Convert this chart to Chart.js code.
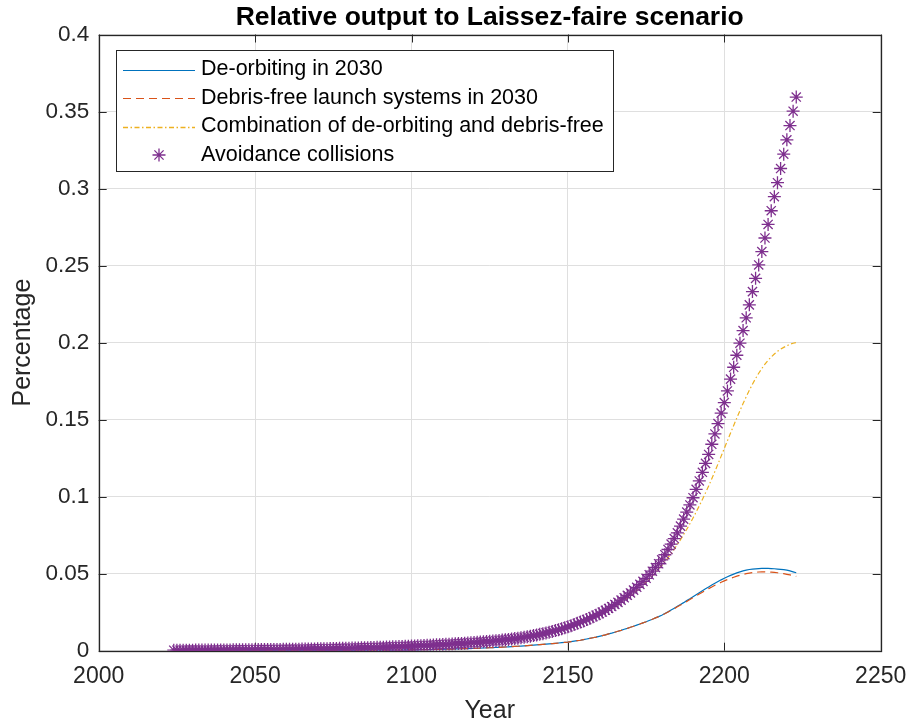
<!DOCTYPE html>
<html>
<head>
<meta charset="utf-8">
<title>Relative output to Laissez-faire scenario</title>
<script src="https://cdn.jsdelivr.net/npm/chart.js@4.4.1/dist/chart.umd.min.js"></script>
<style>
  html, body { margin: 0; padding: 0; background: #ffffff; }
  canvas { display: block; }
</style>
</head>
<body>
<canvas id="chart" width="909" height="724"></canvas>
<script>
// One value per year, starting in firstYear
const firstYear = 2024;

const deorbiting = [
  0.00005, 0.00005, 0.00005, 0.00006, 0.00006, 0.00006, 0.00006, 0.00006, 0.00007, 0.00007,
  0.00007, 0.00007, 0.00007, 0.00008, 0.00008, 0.00008, 0.00008, 0.00008, 0.00009, 0.00009,
  0.00009, 0.00009, 0.00009, 0.0001, 0.0001, 0.0001, 0.0001, 0.0001, 0.00011, 0.00011,
  0.00011, 0.00012, 0.00012, 0.00013, 0.00013, 0.00014, 0.00014, 0.00014, 0.00015, 0.00015,
  0.00016, 0.00016, 0.00016, 0.00017, 0.00017, 0.00018, 0.00018, 0.00018, 0.00019, 0.00019,
  0.0002, 0.0002, 0.00021, 0.00022, 0.00023, 0.00024, 0.00025, 0.00026, 0.00027, 0.00028,
  0.0003, 0.00031, 0.00032, 0.00033, 0.00035, 0.00036, 0.00037, 0.00039, 0.0004, 0.00041,
  0.00043, 0.00044, 0.00045, 0.00047, 0.00048, 0.00049, 0.0005, 0.00054, 0.00058, 0.00062,
  0.00066, 0.0007, 0.00074, 0.00078, 0.00082, 0.00086, 0.0009, 0.00096, 0.00102, 0.00108,
  0.00114, 0.0012, 0.00126, 0.00132, 0.00138, 0.00144, 0.0015, 0.00158, 0.00166, 0.00174,
  0.00182, 0.0019, 0.002, 0.0021, 0.0022, 0.0023, 0.0024, 0.00252, 0.00264, 0.00276,
  0.00288, 0.003, 0.00316, 0.00332, 0.00348, 0.00364, 0.0038, 0.00396, 0.00412, 0.00428,
  0.00444, 0.0046, 0.0048, 0.005, 0.0052, 0.0054, 0.0056, 0.0059, 0.0062, 0.0065,
  0.0068, 0.0072, 0.0076, 0.008, 0.0084, 0.0088, 0.0093, 0.0098, 0.0103, 0.0109,
  0.0114, 0.012, 0.0126, 0.0132, 0.0139, 0.0145, 0.0152, 0.0159, 0.0166, 0.0173,
  0.0181, 0.0188, 0.0196, 0.0204, 0.0213, 0.0221, 0.023, 0.0241, 0.0252, 0.0264,
  0.0276, 0.0288, 0.03, 0.0312, 0.0325, 0.0337, 0.035, 0.0363, 0.0376, 0.0389,
  0.0402, 0.0414, 0.0426, 0.0438, 0.0449, 0.046, 0.047, 0.048, 0.0489, 0.0497,
  0.0505, 0.0512, 0.0518, 0.0523, 0.0527, 0.0529, 0.0531, 0.0533, 0.0534, 0.0534,
  0.0534, 0.0533, 0.0532, 0.053, 0.0528, 0.0526, 0.0523, 0.0518, 0.0512, 0.0506
];

const debrisFree = [
  0.00005, 0.00005, 0.00005, 0.00006, 0.00006, 0.00006, 0.00006, 0.00006, 0.00007, 0.00007,
  0.00007, 0.00007, 0.00007, 0.00008, 0.00008, 0.00008, 0.00008, 0.00008, 0.00009, 0.00009,
  0.00009, 0.00009, 0.00009, 0.0001, 0.0001, 0.0001, 0.0001, 0.0001, 0.00011, 0.00011,
  0.00011, 0.00012, 0.00012, 0.00013, 0.00013, 0.00014, 0.00014, 0.00014, 0.00015, 0.00015,
  0.00016, 0.00016, 0.00016, 0.00017, 0.00017, 0.00018, 0.00018, 0.00018, 0.00019, 0.00019,
  0.0002, 0.0002, 0.00021, 0.00022, 0.00023, 0.00024, 0.00025, 0.00026, 0.00027, 0.00028,
  0.0003, 0.00031, 0.00032, 0.00033, 0.00035, 0.00036, 0.00037, 0.00039, 0.0004, 0.00041,
  0.00043, 0.00044, 0.00045, 0.00047, 0.00048, 0.00049, 0.0005, 0.00054, 0.00058, 0.00062,
  0.00066, 0.0007, 0.00074, 0.00078, 0.00082, 0.00086, 0.0009, 0.00096, 0.00102, 0.00108,
  0.00114, 0.0012, 0.00126, 0.00132, 0.00138, 0.00144, 0.0015, 0.00158, 0.00166, 0.00174,
  0.00182, 0.0019, 0.002, 0.0021, 0.0022, 0.0023, 0.0024, 0.00252, 0.00264, 0.00276,
  0.00288, 0.003, 0.00316, 0.00332, 0.00348, 0.00364, 0.0038, 0.00396, 0.00412, 0.00428,
  0.00444, 0.0046, 0.0048, 0.005, 0.0052, 0.0054, 0.0056, 0.0059, 0.0062, 0.0065,
  0.0068, 0.0072, 0.0076, 0.008, 0.0084, 0.0088, 0.0093, 0.0098, 0.0103, 0.0109,
  0.0114, 0.012, 0.0126, 0.0132, 0.0139, 0.0145, 0.0152, 0.0159, 0.0166, 0.0173,
  0.0181, 0.0188, 0.0196, 0.0204, 0.0213, 0.0221, 0.023, 0.024, 0.0251, 0.0262,
  0.0273, 0.0285, 0.0296, 0.0308, 0.032, 0.0332, 0.0344, 0.0356, 0.0368, 0.038,
  0.0392, 0.0403, 0.0414, 0.0425, 0.0435, 0.0444, 0.0453, 0.0462, 0.047, 0.0477,
  0.0484, 0.049, 0.0495, 0.05, 0.0504, 0.0507, 0.0509, 0.0511, 0.0512, 0.0512,
  0.0511, 0.051, 0.0508, 0.0506, 0.0503, 0.05, 0.0496, 0.0492, 0.0487, 0.0482
];

const combination = [
  0.0003, 0.0003, 0.0003, 0.0003, 0.0003, 0.0003, 0.0004, 0.0004, 0.0004, 0.0004,
  0.0004, 0.0004, 0.0004, 0.0004, 0.0005, 0.0005, 0.0005, 0.0005, 0.0005, 0.0005,
  0.0005, 0.0006, 0.0006, 0.0006, 0.0006, 0.0006, 0.0007, 0.0007, 0.0007, 0.0007,
  0.0007, 0.0008, 0.0008, 0.0008, 0.0008, 0.0009, 0.0009, 0.0009, 0.0009, 0.001,
  0.001, 0.001, 0.0011, 0.0011, 0.0011, 0.0012, 0.0012, 0.0012, 0.0013, 0.0013,
  0.0013, 0.0014, 0.0014, 0.0015, 0.0015, 0.0016, 0.0016, 0.0017, 0.0017, 0.0018,
  0.0018, 0.0019, 0.0019, 0.002, 0.002, 0.0021, 0.0022, 0.0022, 0.0023, 0.0024,
  0.0024, 0.0025, 0.0026, 0.0027, 0.0027, 0.0028, 0.0029, 0.003, 0.0031, 0.0032,
  0.0033, 0.0034, 0.0035, 0.0036, 0.0037, 0.0038, 0.0039, 0.004, 0.0041, 0.0042,
  0.0044, 0.0045, 0.0046, 0.0047, 0.0049, 0.005, 0.0052, 0.0053, 0.0055, 0.0056,
  0.0058, 0.006, 0.0061, 0.0063, 0.0065, 0.0067, 0.0069, 0.0072, 0.0074, 0.0077,
  0.0079, 0.0082, 0.0085, 0.0088, 0.0092, 0.0095, 0.0099, 0.0103, 0.0107, 0.0112,
  0.0116, 0.0121, 0.0126, 0.0132, 0.0138, 0.0144, 0.015, 0.0157, 0.0164, 0.0171,
  0.0179, 0.0186, 0.0195, 0.0203, 0.0212, 0.0222, 0.0231, 0.0241, 0.0252, 0.0263,
  0.0275, 0.0287, 0.03, 0.0314, 0.0328, 0.0343, 0.0358, 0.0374, 0.0391, 0.0408,
  0.0426, 0.0445, 0.0465, 0.0486, 0.0507, 0.053, 0.0553, 0.0578, 0.0604, 0.0631,
  0.066, 0.069, 0.0721, 0.0754, 0.0788, 0.0824, 0.0861, 0.09, 0.094, 0.0982,
  0.1025, 0.1069, 0.1116, 0.1164, 0.1213, 0.1263, 0.1313, 0.1363, 0.1413, 0.1462,
  0.1511, 0.1558, 0.1604, 0.1648, 0.169, 0.173, 0.1767, 0.1801, 0.1832, 0.186,
  0.1885, 0.1907, 0.1926, 0.1943, 0.1957, 0.1969, 0.198, 0.1989, 0.1996, 0.2
];

const avoidance = [
  0.00031, 0.00032, 0.00033, 0.00034, 0.00035, 0.00036, 0.00037, 0.00038, 0.00039, 0.0004,
  0.00042, 0.00043, 0.00044, 0.00046, 0.00047, 0.00049, 0.0005, 0.00052, 0.00053, 0.00055,
  0.00057, 0.00058, 0.0006, 0.00062, 0.00064, 0.00066, 0.00067, 0.0007, 0.00072, 0.00074,
  0.00076, 0.00078, 0.00081, 0.00083, 0.00085, 0.00088, 0.0009, 0.00093, 0.00096, 0.00099,
  0.00102, 0.00105, 0.00108, 0.00112, 0.00115, 0.00118, 0.00122, 0.00126, 0.0013, 0.00134,
  0.00138, 0.00142, 0.00146, 0.00151, 0.00155, 0.0016, 0.00165, 0.0017, 0.00175, 0.0018,
  0.00186, 0.00192, 0.00197, 0.00203, 0.0021, 0.00216, 0.00222, 0.00229, 0.00236, 0.00243,
  0.00251, 0.00258, 0.00266, 0.00274, 0.00282, 0.00291, 0.003, 0.00309, 0.00318, 0.00327,
  0.00337, 0.00347, 0.00357, 0.00368, 0.00379, 0.0039, 0.004, 0.00412, 0.00424, 0.00436,
  0.00449, 0.00462, 0.00475, 0.00488, 0.00502, 0.00516, 0.0053, 0.00545, 0.0056, 0.00576,
  0.00593, 0.0061, 0.00629, 0.00648, 0.00668, 0.00689, 0.0071, 0.00735, 0.0076, 0.00786,
  0.00813, 0.0084, 0.00873, 0.00907, 0.00942, 0.0098, 0.0102, 0.01063, 0.01107, 0.01154,
  0.01202, 0.0125, 0.01305, 0.01362, 0.01422, 0.01485, 0.0155, 0.01622, 0.01697, 0.01775,
  0.01855, 0.0193, 0.02018, 0.0211, 0.02205, 0.02302, 0.024, 0.0251, 0.02624, 0.02743,
  0.02868, 0.03, 0.0314, 0.03285, 0.03437, 0.03595, 0.0375, 0.0393, 0.04115, 0.04305,
  0.045, 0.047, 0.0493, 0.0516, 0.054, 0.05645, 0.059, 0.0623, 0.0657, 0.0692,
  0.0728, 0.0765, 0.0809, 0.0854, 0.09, 0.0946, 0.0993, 0.1047, 0.1102, 0.1158,
  0.1216, 0.1274, 0.134, 0.1407, 0.1474, 0.1542, 0.161, 0.1686, 0.1763, 0.184,
  0.1918, 0.1996, 0.2078, 0.2161, 0.2245, 0.2331, 0.2417, 0.2504, 0.2591, 0.2679,
  0.2767, 0.2856, 0.2947, 0.3038, 0.313, 0.3223, 0.3316, 0.3409, 0.3502, 0.3594
];

const seriesNames = [
  'De-orbiting in 2030',
  'Debris-free launch systems in 2030',
  'Combination of de-orbiting and debris-free',
  'Avoidance collisions'
];

const xTickLabels = ['2000', '2050', '2100', '2150', '2200', '2250'];
const yTickLabels = ['0', '0.05', '0.1', '0.15', '0.2', '0.25', '0.3', '0.35', '0.4'];

const chartTitle = 'Relative output to Laissez-faire scenario';
const xTitle = 'Year';
const yTitle = 'Percentage';

// ---- styling ----
const FONT = "'Liberation Sans', Arial, Helvetica, sans-serif";
const INK = '#262626';
const GRID = '#dfdfdf';
const COLORS = ['#0072BD', '#D95319', '#EDB120', '#7E2F8E'];
const DASHES = [[], [8, 5], [5, 2.5, 1.5, 2.5], []];

const years = deorbiting.map((_, i) => firstYear + i);
const toPoints = (vals) => vals.map((v, i) => ({ x: years[i], y: v }));

const lineDataset = (idx, values) => ({
  label: seriesNames[idx],
  data: toPoints(values),
  borderColor: COLORS[idx],
  backgroundColor: COLORS[idx],
  borderWidth: 1.2,
  borderDash: DASHES[idx],
  pointRadius: 0,
  tension: 0,
  fill: false,
  order: 4 - idx
});

const datasets = [
  lineDataset(0, deorbiting),
  lineDataset(1, debrisFree),
  lineDataset(2, combination),
  {
    label: seriesNames[3],
    data: toPoints(avoidance),
    showLine: false,
    pointStyle: 'star',
    pointRadius: 6.5,
    pointBorderWidth: 1.3,
    pointBorderColor: COLORS[3],
    pointBackgroundColor: COLORS[3],
    order: 1
  }
];

// Draws an asterisk marker (8 rays)
function drawStar(ctx, x, y, r, color, lw) {
  ctx.save();
  ctx.strokeStyle = color;
  ctx.lineWidth = lw;
  ctx.beginPath();
  for (let k = 0; k < 4; k++) {
    const a = k * Math.PI / 4;
    const dx = Math.cos(a) * r, dy = Math.sin(a) * r;
    ctx.moveTo(x - dx, y - dy);
    ctx.lineTo(x + dx, y + dy);
  }
  ctx.stroke();
  ctx.restore();
}

// Box frame with inward ticks on all four sides
const boxFrame = {
  id: 'boxFrame',
  beforeDatasetsDraw(chart) {
    const { ctx, chartArea: a, scales } = chart;
    const tick = 8;
    ctx.save();
    ctx.strokeStyle = INK;
    ctx.lineWidth = 1;
    ctx.beginPath();
    scales.x.ticks.forEach(t => {
      const px = Math.round(scales.x.getPixelForValue(t.value)) + 0.5;
      ctx.moveTo(px, a.bottom); ctx.lineTo(px, a.bottom - tick);
      ctx.moveTo(px, a.top); ctx.lineTo(px, a.top + tick);
    });
    scales.y.ticks.forEach(t => {
      const py = Math.round(scales.y.getPixelForValue(t.value)) + 0.5;
      ctx.moveTo(a.left, py); ctx.lineTo(a.left + tick, py);
      ctx.moveTo(a.right, py); ctx.lineTo(a.right - tick, py);
    });
    ctx.stroke();
    ctx.lineWidth = 1.3;
    ctx.strokeRect(Math.round(a.left) + 0.5, Math.round(a.top) + 0.5,
                   Math.round(a.right) - Math.round(a.left), Math.round(a.bottom) - Math.round(a.top));
    ctx.restore();
  }
};

// Title centred over the plotting area
const plotTitle = {
  id: 'plotTitle',
  afterDraw(chart) {
    const { ctx, chartArea: a } = chart;
    ctx.save();
    ctx.fillStyle = '#000000';
    ctx.font = 'bold 26.5px ' + FONT;
    ctx.textAlign = 'center';
    ctx.textBaseline = 'middle';
    ctx.fillText(chartTitle, (a.left + a.right) / 2, 17.5);
    ctx.restore();
  }
};

// Legend box in the upper-left corner of the axes
const boxLegend = {
  id: 'boxLegend',
  afterDraw(chart) {
    const { ctx } = chart;
    const bx = 116.5, by = 50.5, bw = 497, bh = 121;
    const rowY = [69.5, 98, 126.5, 155];
    ctx.save();
    ctx.fillStyle = '#ffffff';
    ctx.fillRect(bx, by, bw, bh);
    ctx.strokeStyle = INK;
    ctx.lineWidth = 1;
    ctx.strokeRect(bx, by, bw, bh);
    ctx.font = '21.5px ' + FONT;
    ctx.textAlign = 'left';
    ctx.textBaseline = 'middle';
    chart.data.datasets.forEach((ds, i) => {
      const y = rowY[i];
      if (i < 3) {
        const ly = Math.round(y) + 0.5;
        ctx.save();
        ctx.strokeStyle = COLORS[i];
        ctx.lineWidth = i === 2 ? 1.6 : 1.2;
        ctx.setLineDash(DASHES[i]);
        ctx.beginPath();
        ctx.moveTo(123, ly);
        ctx.lineTo(195, ly);
        ctx.stroke();
        ctx.restore();
      } else {
        drawStar(ctx, 159, y, 6.5, COLORS[3], 1.3);
      }
      ctx.fillStyle = '#000000';
      ctx.fillText(ds.label, 201, y);
    });
    ctx.restore();
  }
};

const PLOT_LEFT = 98.7, PLOT_RIGHT = 880.7, PLOT_TOP = 34.5, PLOT_BOTTOM = 650.7;

new Chart(document.getElementById('chart').getContext('2d'), {
  type: 'line',
  data: { datasets },
  options: {
    responsive: false,
    animation: false,
    events: [],
    layout: { padding: { left: 0, top: PLOT_TOP, right: 909 - PLOT_RIGHT, bottom: 0 } },
    plugins: {
      legend: { display: false },
      tooltip: { enabled: false },
      title: { display: false }
    },
    scales: {
      x: {
        type: 'linear',
        min: 2000,
        max: 2250,
        afterFit(scale) {
          scale.height = 724 - PLOT_BOTTOM;
          scale.paddingLeft = 0;
          scale.paddingRight = 0;
        },
        afterBuildTicks(scale) {
          scale.ticks = xTickLabels.map(l => ({ value: Number(l) }));
        },
        ticks: {
          autoSkip: false,
          maxRotation: 0,
          padding: 12,
          color: INK,
          font: { family: FONT, size: 23 },
          callback: (v, i) => xTickLabels[i]
        },
        grid: { color: GRID, lineWidth: 1, drawTicks: false },
        border: { display: false },
        title: {
          display: true,
          text: xTitle,
          color: INK,
          font: { family: FONT, size: 25, lineHeight: 1 },
          padding: { top: 0, bottom: 0 }
        }
      },
      y: {
        type: 'linear',
        min: 0,
        max: 0.4,
        afterFit(scale) {
          scale.width = PLOT_LEFT;
          scale.paddingTop = 0;
          scale.paddingBottom = 0;
        },
        afterBuildTicks(scale) {
          scale.ticks = yTickLabels.map(l => ({ value: Number(l) }));
        },
        ticks: {
          autoSkip: false,
          padding: 9.5,
          color: INK,
          font: { family: FONT, size: 22.5 },
          callback: (v, i) => yTickLabels[i]
        },
        grid: { color: GRID, lineWidth: 1, drawTicks: false },
        border: { display: false },
        title: {
          display: true,
          text: yTitle,
          color: INK,
          font: { family: FONT, size: 25, lineHeight: 1 },
          padding: { top: 10.5, bottom: 0 }
        }
      }
    }
  },
  plugins: [boxFrame, plotTitle, boxLegend]
});
</script>
</body>
</html>
